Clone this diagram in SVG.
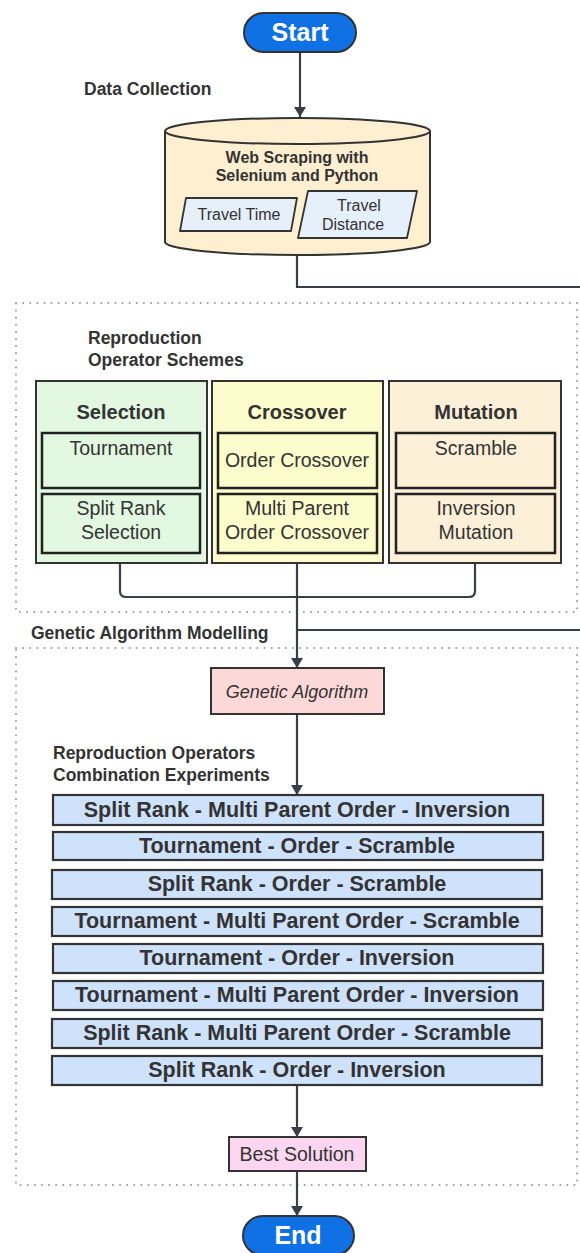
<svg xmlns="http://www.w3.org/2000/svg" width="580" height="1253" viewBox="0 0 580 1253">
<style>
text{font-family:"Liberation Sans",Arial,sans-serif;fill:#333}
.lbl{font-size:17.5px;font-weight:bold}
.pill{fill:#1071e5;stroke:#333;stroke-width:2}
.pilltxt{font-size:25px;font-weight:bold;fill:#fff;text-anchor:middle}
.ln{fill:none;stroke:#3a3f47;stroke-width:2.2}
.dot{fill:none;stroke:#9aa0a8;stroke-width:2;stroke-dasharray:0.1 7;stroke-linecap:round}
.box{stroke:#333;stroke-width:2}
.inner{stroke:#222;stroke-width:2.5}
.c{text-anchor:middle}
.t16{font-size:19.5px}
.bar{fill:#cfe2fb;stroke:#333;stroke-width:2.2}
.bt{font-size:21.5px;font-weight:bold;text-anchor:middle}
.hd{font-size:20px;font-weight:bold}
</style>
<defs>
<marker id="ah" viewBox="0 0 10 12" refX="10" refY="6" markerWidth="10" markerHeight="12" markerUnits="userSpaceOnUse" orient="auto">
<path d="M0,0 L10,6 L0,12 Z" fill="#3a3f47"/>
</marker>
</defs>

<!-- dotted containers -->
<rect class="dot" x="16" y="303" width="561" height="309"/>
<rect class="dot" x="16" y="648" width="561" height="537"/>

<!-- section labels -->
<text class="lbl" x="84" y="95">Data Collection</text>
<text class="lbl" x="88" y="344">Reproduction</text>
<text class="lbl" x="88" y="366">Operator Schemes</text>
<text class="lbl" x="31" y="639">Genetic Algorithm Modelling</text>
<text class="lbl" x="53" y="759">Reproduction Operators</text>
<text class="lbl" x="53" y="781">Combination Experiments</text>

<!-- connectors -->
<g id="connectors">
<line class="ln" x1="300" y1="52" x2="300" y2="117" marker-end="url(#ah)"/>
<polyline class="ln" points="297,256 297,287 580,287"/>
<path class="ln" d="M120,563 V591 Q120,597 126,597 H469 Q475,597 475,591 V563"/>
<line class="ln" x1="297" y1="563" x2="297" y2="668" marker-end="url(#ah)"/>
<line class="ln" x1="580" y1="630" x2="297" y2="630"/>
<line class="ln" x1="297" y1="714" x2="297" y2="795" marker-end="url(#ah)"/>
<line class="ln" x1="297" y1="1086" x2="297" y2="1137" marker-end="url(#ah)"/>
<line class="ln" x1="297" y1="1171" x2="297" y2="1216" marker-end="url(#ah)"/>
</g>

<g id="start">
<rect class="pill" x="244" y="13" width="112" height="39" rx="19.5"/>
<text class="pilltxt" x="300" y="41">Start</text>
</g>

<g id="data-collection">
<path d="M165,131 V242 A132.5,13 0 0 0 430,242 V131" fill="#fdefd0" stroke="#333" stroke-width="2"/>
<ellipse cx="297.5" cy="131" rx="132.5" ry="13" fill="#fdefd0" stroke="#333" stroke-width="2"/>
<text class="c" x="297" y="163" style="font-size:16px;font-weight:bold">Web Scraping with</text>
<text class="c" x="297" y="181" style="font-size:16px;font-weight:bold">Selenium and Python</text>
</g>
<g id="travel-time">
<path d="M186,198 H297 L291,231 H180 Z" fill="#e6f0fb" stroke="#333" stroke-width="1.8" stroke-linejoin="round"/>
<text class="c" x="239" y="220" style="font-size:16px">Travel Time</text>
</g>
<g id="travel-distance">
<path d="M308,191 H417 L407,238 H298 Z" fill="#e6f0fb" stroke="#333" stroke-width="1.8" stroke-linejoin="round"/>
<text class="c" x="359" y="211" style="font-size:16px">Travel</text>
<text class="c" x="353" y="230" style="font-size:16px">Distance</text>
</g>

<g id="selection">
<rect class="box" x="36" y="381" width="171" height="182" fill="#e3f8e0"/>
<text class="c hd" x="121" y="419">Selection</text>
<rect class="inner" x="42" y="433" width="158" height="55" fill="#e3f8e0"/>
<text class="c t16" x="121" y="455">Tournament</text>
<rect class="inner" x="42" y="494" width="158" height="59" fill="#e3f8e0"/>
<text class="c t16" x="121" y="515">Split Rank</text>
<text class="c t16" x="121" y="539">Selection</text>
</g>

<g id="crossover">
<rect class="box" x="212" y="381" width="171" height="182" fill="#fdfccd"/>
<text class="c hd" x="297" y="419">Crossover</text>
<rect class="inner" x="218" y="433" width="159" height="55" fill="#fdfccd"/>
<text class="c t16" x="297" y="467">Order Crossover</text>
<rect class="inner" x="218" y="494" width="159" height="59" fill="#fdfccd"/>
<text class="c t16" x="297" y="515">Multi Parent</text>
<text class="c t16" x="297" y="539">Order Crossover</text>
</g>

<g id="mutation">
<rect class="box" x="389" y="381" width="172" height="182" fill="#fdf0d8"/>
<text class="c hd" x="476" y="419">Mutation</text>
<rect class="inner" x="396" y="433" width="159" height="55" fill="#fdf0d8"/>
<text class="c t16" x="476" y="455">Scramble</text>
<rect class="inner" x="396" y="494" width="159" height="59" fill="#fdf0d8"/>
<text class="c t16" x="476" y="515">Inversion</text>
<text class="c t16" x="476" y="539">Mutation</text>
</g>

<g id="genetic-algorithm">
<rect class="box" x="211" y="668" width="173" height="46" fill="#fdd8d8"/>
<text class="c" x="297" y="698" style="font-size:18px;font-style:italic">Genetic Algorithm</text>
</g>

<g id="exp1"><rect class="bar" x="53" y="795" width="490" height="30"/><text class="bt" x="297" y="817">Split Rank - Multi Parent Order - Inversion</text></g>
<g id="exp2"><rect class="bar" x="53" y="832" width="490" height="28"/><text class="bt" x="297" y="853">Tournament - Order - Scramble</text></g>
<g id="exp3"><rect class="bar" x="52" y="870" width="490" height="29"/><text class="bt" x="297" y="891">Split Rank - Order - Scramble</text></g>
<g id="exp4"><rect class="bar" x="52" y="907" width="490" height="29"/><text class="bt" x="297" y="928">Tournament - Multi Parent Order - Scramble</text></g>
<g id="exp5"><rect class="bar" x="53" y="944" width="490" height="29"/><text class="bt" x="297" y="965">Tournament - Order - Inversion</text></g>
<g id="exp6"><rect class="bar" x="53" y="981" width="490" height="29"/><text class="bt" x="297" y="1002">Tournament - Multi Parent Order - Inversion</text></g>
<g id="exp7"><rect class="bar" x="52" y="1019" width="490" height="29"/><text class="bt" x="297" y="1040">Split Rank - Multi Parent Order - Scramble</text></g>
<g id="exp8"><rect class="bar" x="52" y="1056" width="490" height="29"/><text class="bt" x="297" y="1077">Split Rank - Order - Inversion</text></g>

<g id="best-solution">
<rect class="box" x="229" y="1137" width="137" height="34" fill="#fcd6f0"/>
<text class="c t16" x="297" y="1161">Best Solution</text>
</g>

<g id="end">
<rect class="pill" x="243" y="1216" width="111" height="39" rx="19.5"/>
<text class="pilltxt" x="298" y="1244">End</text>
</g>
</svg>
